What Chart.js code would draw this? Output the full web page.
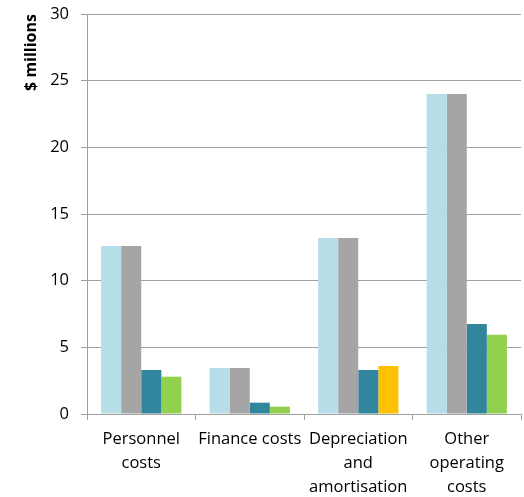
<!DOCTYPE html>
<html>
<head>
<meta charset="utf-8">
<script src="https://cdn.jsdelivr.net/npm/chart.js@4/dist/chart.umd.min.js"></script>
<style>
  html, body { margin: 0; padding: 0; background: #fff; }
  #wrap { width: 524px; height: 497px; position: relative; }
</style>
</head>
<body>
<div id="wrap"><canvas id="costs"></canvas></div>
<script>
const categories = [
  ["Personnel", "costs"],
  "Finance costs",
  ["Depreciation", "and", "amortisation"],
  ["Other", "operating", "costs"]
];
const seriesA = [12.6, 3.45, 13.2, 24.0];
const seriesB = [12.6, 3.45, 13.2, 24.0];
const seriesC = [3.3, 0.85, 3.3, 6.75];
const seriesD = [2.8, 0.55, 3.6, 5.95];
const yTicks = [0, 5, 10, 15, 20, 25, 30];

const fontFamily = "'Open Sans', 'Liberation Sans', sans-serif";
const gridGrey = "#a0a0a0";

new Chart(document.getElementById("costs"), {
  type: "bar",
  data: {
    labels: categories,
    datasets: [
      { data: seriesA, backgroundColor: "#b7dde8" },
      { data: seriesB, backgroundColor: "#a5a5a5" },
      { data: seriesC, backgroundColor: "#31859c" },
      // depreciation bar in this series is highlighted in amber
      { data: seriesD, backgroundColor: ["#92d050", "#92d050", "#ffc000", "#92d050"] }
    ]
  },
  options: {
    responsive: true,
    maintainAspectRatio: false,
    animation: false,
    layout: { padding: { top: 14, right: 3, left: 0, bottom: 0 } },
    plugins: { legend: { display: false }, tooltip: { enabled: false } },
    datasets: { bar: { barPercentage: 1, categoryPercentage: 0.74 } },
    scales: {
      x: {
        offset: true,
        afterFit: s => { s.height = 83; },
        grid: {
          offset: true,
          drawOnChartArea: false,
          drawTicks: true,
          tickLength: 6,
          color: gridGrey
        },
        border: { color: gridGrey, width: 1 },
        ticks: {
          color: "#000",
          maxRotation: 0,
          autoSkip: false,
          padding: 7,
          font: { family: fontFamily, size: 16.5, lineHeight: 1.45 }
        }
      },
      y: {
        min: 0,
        max: 30,
        afterBuildTicks: s => { s.ticks = yTicks.map(v => ({ value: v })); },
        afterFit: s => { s.width = 87; s.paddingTop = 0; s.paddingBottom = 0; },
        grid: { color: gridGrey, tickLength: 6, drawTicks: true },
        border: { color: gridGrey, width: 1 },
        ticks: {
          color: "#000",
          padding: 12,
          font: { family: fontFamily, size: 16.5 }
        },
        title: {
          display: true,
          text: "$ millions",
          align: "end",
          color: "#000",
          padding: { top: 22, bottom: 0 },
          font: { family: fontFamily, size: 16, weight: "bold" }
        }
      }
    }
  }
});
</script>
</body>
</html>
